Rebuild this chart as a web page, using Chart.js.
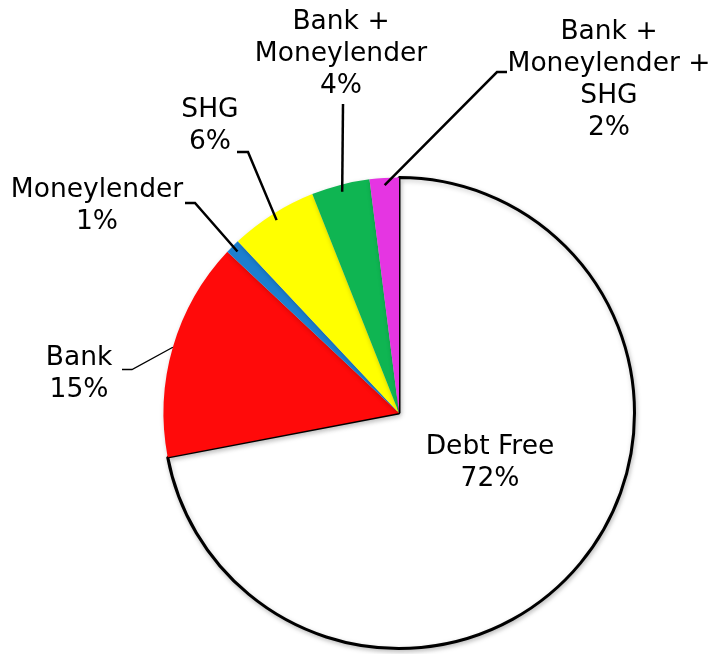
<!DOCTYPE html>
<html>
<head>
<meta charset="utf-8">
<script src="https://cdn.jsdelivr.net/npm/chart.js@4/dist/chart.umd.min.js"></script>
<style>
  html, body { margin: 0; padding: 0; background: #fff; }
  canvas { display: block; }
</style>
</head>
<body>
<canvas id="debtChart" width="710" height="654"></canvas>
<script>
'use strict';

// data
let categories = ['Debt Free', 'Bank', 'Moneylender', 'SHG', 'Bank + Moneylender', 'Bank + Moneylender + SHG'];
let shares = [72, 15, 1, 6, 4, 2];
let sliceColors = ['#ffffff', '#ff0a0a', '#1c7fd0', '#ffff00', '#0fb552', '#e535e2'];
let rimColors = ['#ffffff', '#ff5050', '#5aa8ea', '#ffff80', '#45e68a', '#ff78ff'];

// where each label block sits (center x, center y of first line) and its leader
let labelSpots = [
  { x: 490, y: 447, leader: null },
  { x: 79, y: 358, leader: [[122, 369.5], [132, 369.5]], thin: true },
  { x: 97, y: 190, leader: [[185, 203], [195, 203]] },
  { x: 210, y: 110, leader: [[237, 152], [248, 152]] },
  { x: 341, y: 22, leader: [[343, 104]] },
  { x: 609, y: 32, leader: [[507, 72], [497, 72]] }
];

let fontStack = '"DejaVu Sans", Verdana, sans-serif';
let lineGap = 32;

function labelLines(i) {
  let parts = categories[i].split(' + ');
  let lines = parts.map(function (p, k) {
    return k < parts.length - 1 ? p + ' +' : p;
  });
  let total = shares.reduce(function (a, b) { return a + b; }, 0);
  lines.push(Math.round(shares[i] / total * 100) + '%');
  return lines;
}

// soft shadow behind the pie
let shadowPlugin = {
  id: 'pieShadow',
  beforeDatasetsDraw(chart) {
    let ctx = chart.ctx;
    ctx.save();
    ctx.shadowColor = 'rgba(0,0,0,0.22)';
    ctx.shadowBlur = 5;
    ctx.shadowOffsetX = 1;
    ctx.shadowOffsetY = 2;
  },
  afterDatasetsDraw(chart) {
    chart.ctx.restore();
  }
};

// text labels with leader lines running into the slices
let labelPlugin = {
  id: 'sliceLabels',
  afterDraw(chart) {
    let ctx = chart.ctx;
    let arcs = chart.getDatasetMeta(0).data;
    ctx.save();
    ctx.font = '26.5px ' + fontStack;
    ctx.fillStyle = '#000';
    ctx.textAlign = 'center';
    ctx.textBaseline = 'middle';

    for (let i = 0; i < arcs.length; i++) {
      let spot = labelSpots[i];
      let lines = labelLines(i);
      lines.forEach(function (line, k) {
        ctx.fillText(line, spot.x, spot.y + k * lineGap);
      });

      if (spot.leader) {
        let arc = arcs[i];
        let mid = (arc.startAngle + arc.endAngle) / 2;
        let r = arc.outerRadius * (i === 1 ? 1.0 : 0.97);
        let endX = arc.x + Math.cos(mid) * r;
        let endY = arc.y + Math.sin(mid) * r;
        ctx.beginPath();
        ctx.lineWidth = spot.thin ? 1.3 : 2.5;
        ctx.strokeStyle = '#000';
        ctx.moveTo(spot.leader[0][0], spot.leader[0][1]);
        for (let k = 1; k < spot.leader.length; k++) {
          ctx.lineTo(spot.leader[k][0], spot.leader[k][1]);
        }
        ctx.lineTo(endX, endY);
        ctx.stroke();
      }
    }
    ctx.restore();
  }
};

function sliceFill(context) {
  let i = context.dataIndex;
  let chart = context.chart;
  let arc = chart.getDatasetMeta(0).data[i];
  if (i === 0 || !arc || !arc.outerRadius) return sliceColors[i];
  let g = chart.ctx.createRadialGradient(arc.x, arc.y, 0, arc.x, arc.y, arc.outerRadius);
  g.addColorStop(0, sliceColors[i]);
  g.addColorStop(0.9, sliceColors[i]);
  g.addColorStop(1, rimColors[i]);
  return g;
}

let ctx = document.getElementById('debtChart');

new Chart(ctx, {
  type: 'pie',
  data: {
    labels: categories,
    datasets: [{
      data: shares,
      backgroundColor: sliceFill,
      borderColor: ['#000', 'rgba(0,0,0,0)', 'rgba(0,0,0,0)', 'rgba(0,0,0,0)', 'rgba(0,0,0,0)', 'rgba(0,0,0,0)'],
      borderWidth: [3, 0, 0, 0, 0, 0]
    }]
  },
  options: {
    responsive: false,
    animation: false,
    layout: {
      padding: { left: 162, right: 74, top: 176, bottom: 4 }
    },
    plugins: {
      legend: { display: false },
      tooltip: { enabled: false }
    }
  },
  plugins: [shadowPlugin, labelPlugin]
});
</script>
</body>
</html>
